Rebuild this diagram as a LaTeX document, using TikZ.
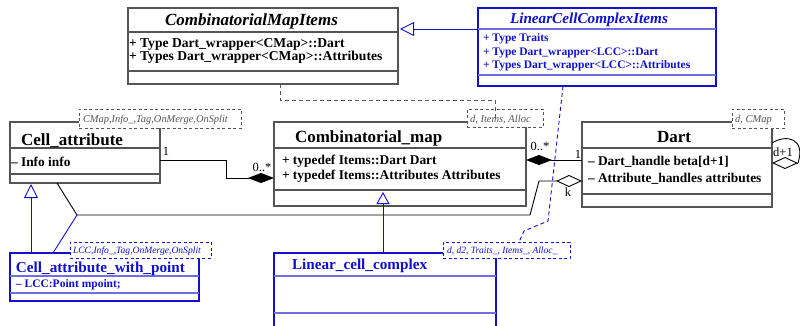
\documentclass[tikz,border=0pt]{standalone}
\usepackage{fontspec}
\setmainfont{Liberation Serif}
\usetikzlibrary{arrows.meta,calc}
\definecolor{cgray}{RGB}{85,85,85}
\definecolor{cblue}{RGB}{17,17,204}
\definecolor{lblue}{RGB}{110,110,230}
\tikzset{
  cls/.style={rectangle, draw=cgray, line width=1.2pt, fill=white, inner sep=0pt, outer sep=0pt, anchor=north west},
  bcls/.style={cls, draw=cblue},
  tpl/.style={rectangle, draw=cgray, dash pattern=on 3pt off 2.5pt, line width=0.9pt, fill=white, inner sep=0pt, outer sep=0pt, anchor=north west},
  btpl/.style={tpl, draw=cblue},
  sepline/.style={draw=cgray, line width=1.2pt},
  bsepline/.style={draw=lblue, line width=1.2pt},
  txt/.style={inner sep=0pt, outer sep=0pt, anchor=base west},
  ttl/.style={txt, font=\fontsize{17}{17}\selectfont\bfseries},
  bttl/.style={txt, text=cblue, font=\fontsize{15.2}{15.2}\selectfont\bfseries},
  attr/.style={txt, font=\fontsize{13.4}{13.4}\selectfont\bfseries},
  battr/.style={txt, text=cblue, font=\fontsize{11.5}{11.5}\selectfont\bfseries},
  tplt/.style={txt, text=cgray, font=\fontsize{10.4}{10.4}\selectfont\itshape},
  btplt/.style={txt, text=cblue, font=\fontsize{9.6}{9.6}\selectfont\itshape},
  mult/.style={inner sep=0pt, font=\fontsize{12.5}{12.5}\selectfont},
  conn/.style={draw=black, line width=0.9pt},
  bconn/.style={draw=cblue, line width=0.9pt},
  dconn/.style={draw=cgray, line width=0.9pt, dash pattern=on 4pt off 3pt},
  bdconn/.style={draw=cblue, line width=0.9pt, dash pattern=on 4pt off 3pt},
  comp/.style={-{Diamond[length=26pt,width=10pt]}},
  compr/.style={{Diamond[length=26pt,width=10pt]}-},
  aggr/.style={-{Diamond[open,length=26pt,width=12pt]}},
  inh/.style={-{Triangle[open,length=14pt,width=14pt]}},
}
\begin{document}
\begin{tikzpicture}[x=1pt,y=-1pt]
\useasboundingbox[fill=white] (0,0) rectangle (800,325);

% ---------- class boxes ----------
\node[cls, minimum width=270pt, minimum height=76pt] (cmi) at (128,8) {};
\draw[sepline] ($(cmi.north west)+(0,24)$) -- ($(cmi.north east)+(0,24)$);
\draw[sepline] ($(cmi.north west)+(0,63)$) -- ($(cmi.north east)+(0,63)$);
\node[ttl, font=\fontsize{17}{17}\selectfont\bfseries\itshape] (cmit) at (165,25.5) {CombinatorialMapItems};
\node[attr, font=\fontsize{13.6}{13.6}\selectfont\bfseries] (cmia1) at (129,47) {+ Type Dart\_wrapper\textless CMap\textgreater::Dart};
\node[attr, font=\fontsize{13.6}{13.6}\selectfont\bfseries] (cmia2) at (129,60) {+ Types Dart\_wrapper\textless CMap\textgreater::Attributes};

\node[bcls, minimum width=238pt, minimum height=78pt] (lcci) at (478,8) {};
\draw[bsepline] ($(lcci.north west)+(0,21)$) -- ($(lcci.north east)+(0,21)$);
\draw[bsepline] ($(lcci.north west)+(0,67)$) -- ($(lcci.north east)+(0,67)$);
\node[bttl, font=\fontsize{15.2}{15.2}\selectfont\bfseries\itshape] (lccit) at (510,23) {LinearCellComplexItems};
\node[battr] (lccia1) at (483,41.5) {+ Type Traits};
\node[battr] (lccia2) at (483,55) {+ Type Dart\_wrapper\textless LCC\textgreater::Dart};
\node[battr] (lccia3) at (483,68) {+ Types Dart\_wrapper\textless LCC\textgreater::Attributes};

\node[cls, minimum width=150pt, minimum height=61pt] (ca) at (10,122) {};
\draw[sepline] ($(ca.north west)+(0,26)$) -- ($(ca.north east)+(0,26)$);
\draw[sepline] ($(ca.north west)+(0,52)$) -- ($(ca.north east)+(0,52)$);
\node[ttl] (cat) at (21,145) {Cell\_attribute};
\node[attr] (caa1) at (11,166) {– Info info};

\node[cls, minimum width=252pt, minimum height=84pt] (cm) at (274,122) {};
\draw[sepline] ($(cm.north west)+(0,26)$) -- ($(cm.north east)+(0,26)$);
\draw[sepline] ($(cm.north west)+(0,68)$) -- ($(cm.north east)+(0,68)$);
\node[ttl] (cmt) at (295,142.5) {Combinatorial\_map};
\node[attr] (cma1) at (282,164) {+ typedef Items::Dart Dart};
\node[attr] (cma2) at (282,179) {+ typedef Items::Attributes Attributes};

\node[cls, minimum width=190pt, minimum height=85pt] (dart) at (582,122) {};
\draw[sepline] ($(dart.north west)+(0,26)$) -- ($(dart.north east)+(0,26)$);
\draw[sepline] ($(dart.north west)+(0,72)$) -- ($(dart.north east)+(0,72)$);
\node[ttl] (dartt) at (657,142) {Dart};
\node[attr] (darta1) at (588,165) {– Dart\_handle beta[d+1]};
\node[attr] (darta2) at (588,182) {– Attribute\_handles attributes};

\node[bcls, minimum width=189pt, minimum height=48pt] (cawp) at (10,253) {};
\draw[bsepline] ($(cawp.north west)+(0,23)$) -- ($(cawp.north east)+(0,23)$);
\draw[bsepline] ($(cawp.north west)+(0,40)$) -- ($(cawp.north east)+(0,40)$);
\node[bttl] (cawpt) at (16,272) {Cell\_attribute\_with\_point};
\node[battr] (cawpa1) at (16,287) {– LCC:Point mpoint;};

\node[bcls, minimum width=222pt, minimum height=90pt] (lcc) at (274,253) {};
\draw[bsepline] ($(lcc.north west)+(0,23)$) -- ($(lcc.north east)+(0,23)$);
\draw[bsepline] ($(lcc.north west)+(0,60)$) -- ($(lcc.north east)+(0,60)$);
\node[bttl] (lcct) at (292,269) {Linear\_cell\_complex};

% ---------- connectors ----------
\draw[bconn, inh] ($(lcci.north west)+(0,21)$) -- ($(cmi.north east)+(2,21)$);

\draw[conn, comp] ($(ca.north east)+(0,38)$) -- ++(66,0) |- ($(cm.north west)+(0,56)$);
\node[mult] (m1) at (166,151) {1};
\node[mult] (m2) at (262,167) {0..*};

\draw[conn, compr] ($(cm.north east)+(0,38)$) -- ($(dart.north west)+(0,38)$);
\node[mult] (m3) at (540,146) {0..*};
\node[mult] (m4) at (578,154) {1};

\coordinate (j) at (77,215);
\draw[conn, aggr] ($(ca.south west)+(47,0)$) -- (j) -- (530,215) -- (539,181) -- ($(dart.north west)+(0,59)$);
\node[mult] (m5) at (568,192) {k};

\coordinate (dl) at (798,163);
\draw[conn] ($(dart.north east)+(0,21)$) .. controls (786,134) and (806,138) .. (dl);
\draw[conn, aggr] (dl) -- ($(dart.north east)+(0,41)$);
\node[mult] (m6) at (783,152) {d+1};

\draw[bconn] ($(cawp.north west)+(43,0)$) -- (j);
\draw[bconn, inh] ($(cawp.north west)+(21,0)$) -- ($(ca.south west)+(21,1)$);
\draw[bconn, -{Triangle[open,length=12pt,width=13pt]}] ($(lcc.north west)+(109,0)$) -- ($(cm.south west)+(109,-14)$);

% ---------- template boxes ----------
\node[tpl, minimum width=162pt, minimum height=19pt] (catp) at (79,109) {};
\node[tplt] (catpt) at (83,122) {CMap,Info\_,Tag,OnMerge,OnSplit};
\node[tpl, minimum width=76pt, minimum height=18pt] (cmtp) at (467,109) {};
\node[tplt, font=\fontsize{10.5}{10.5}\selectfont\itshape] (cmtpt) at (470,122) {d, Items, Alloc};
\node[tpl, minimum width=52pt, minimum height=19pt] (darttp) at (732,109) {};
\node[tplt, font=\fontsize{10.5}{10.5}\selectfont\itshape] (darttpt) at (735,122) {d, CMap};
\node[btpl, minimum width=141pt, minimum height=16pt] (cawptp) at (70,242) {};
\node[btplt] (cawptpt) at (73,253.5) {LCC,Info\_,Tag,OnMerge,OnSplit};
\node[btpl, minimum width=127pt, minimum height=16pt] (lcctp) at (443,242) {};
\node[btplt, font=\fontsize{9.5}{9.5}\selectfont\itshape] (lcctpt) at (447,253.5) {d, d2, Traits\_, Items\_, Alloc\_};

% ---------- binding (dashed) ----------
\draw[dconn] ($(cmi.south west)+(152,0)$) -- ++(0,16) -| ($(cmtp.north west)+(28,9)$);
\draw[bdconn] ($(lcci.south west)+(85,0)$) -- (548,221) -- (524,231) -- ($(lcctp.north west)+(76,0)$);
\end{tikzpicture}
\end{document}
